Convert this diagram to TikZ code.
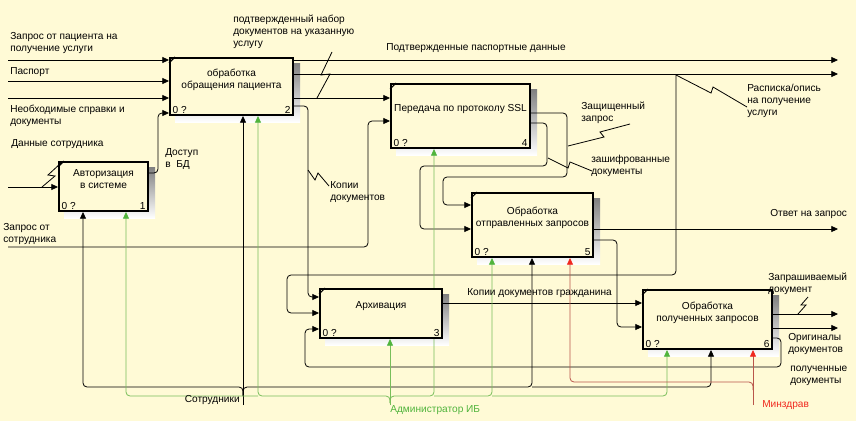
\documentclass[tikz,border=0pt]{standalone}
\usepackage{fontspec}
\setmainfont{Liberation Sans}
\usetikzlibrary{arrows.meta, backgrounds}

\definecolor{paper}{RGB}{255,250,214}
\definecolor{shade}{RGB}{160,158,140}
\definecolor{admline}{RGB}{120,190,90}
\definecolor{admtext}{RGB}{80,180,60}
\definecolor{mzline}{RGB}{185,85,75}
\definecolor{mztext}{RGB}{240,40,30}

\tikzset{
  txt/.style={font=\fontsize{7.6}{9}\selectfont, inner sep=0pt, align=left},
  func/.style={draw, line width=1.5pt, fill=paper, inner sep=0pt},
  ftitle/.style={txt, align=center},
  fnum/.style={txt, inner xsep=2.5pt, inner ysep=1.5pt},
  arr/.style={-{Triangle[length=5pt,width=4.5pt]}, line width=0.6pt, rounded corners=3pt},
  garr/.style={arr, draw=admline, -{Triangle[length=5pt,width=4.5pt,color=admtext]}},
  rarr/.style={arr, draw=mzline, -{Triangle[length=5pt,width=4.5pt,color=mztext]}},
  squig/.style={line width=0.6pt}
}

% box number marks and corner tick
\newcommand{\funcmarks}[2]{%
  \node[fnum, anchor=south west] (#1-z) at (#1.south west) {0 ?};
  \node[fnum, anchor=south east] (#1-n) at (#1.south east) {#2};
  \draw[line width=0.8pt] ([yshift=-4.5pt]#1.north west) -- ([xshift=4.5pt]#1.north west);
}

\begin{document}
\begin{tikzpicture}[x=0.75pt, y=-0.75pt]
    \useasboundingbox (0,0) rectangle (856,421);
    \begin{scope}[on background layer]
        \fill[paper] (0,0) rectangle (856,421);
    \end{scope}

    % Function boxes
    \node[func, minimum width=66.75pt, minimum height=36.75pt] (auth) at (103.5,186.5) {};
    \node[func, minimum width=92.25pt, minimum height=42.75pt] (proc) at (231.5,86.5) {};
    \node[func, minimum width=104.25pt, minimum height=48pt] (ssl) at (460.5,116) {};
    \node[func, minimum width=90.75pt, minimum height=48pt] (sent) at (532.5,225) {};
    \node[func, minimum width=91.5pt, minimum height=36.75pt] (arch) at (381,313.5) {};
    \node[func, minimum width=96.75pt, minimum height=44.25pt] (recv) at (707.5,319.5) {};

    % Box shadows
    \begin{scope}[on background layer]
    \foreach \b in {auth,proc,ssl,sent,arch,recv}
        \fill[shade] ([shift={(6,6)}]\b.north west) rectangle ([shift={(6,6)}]\b.south east);
    \end{scope}

    % Box titles
    \node[ftitle] (auth-t) at ([yshift=5.25pt]auth.center) {Авторизация\\в системе};
    \node[ftitle] (proc-t) at ([yshift=5.25pt]proc.center) {обработка\\обращения пациента};
    \node[ftitle] (ssl-t) at ([yshift=5.25pt]ssl.center) {Передача по протоколу SSL};
    \node[ftitle] (sent-t) at ([yshift=5.25pt]sent.center) {Обработка\\отправленных запросов};
    \node[ftitle] (arch-t) at ([yshift=5.25pt]arch.center) {Архивация};
    \node[ftitle] (recv-t) at ([yshift=5.25pt]recv.center) {Обработка\\полученных запросов};

    \funcmarks{auth}{1}
    \funcmarks{proc}{2}
    \funcmarks{arch}{3}
    \funcmarks{ssl}{4}
    \funcmarks{sent}{5}
    \funcmarks{recv}{6}

    % Border ends
    \coordinate (in-req) at (8,60);
    \coordinate (in-pass) at (8,81);
    \coordinate (in-docs) at (8,98);
    \coordinate (in-emp) at (8,187);
    \coordinate (in-ereq) at (8,247);
    \coordinate (out-pass) at (838,60);
    \coordinate (out-rasp) at (838,74);
    \coordinate (out-ans) at (838,229);
    \coordinate (out-doc) at (838,314);
    \coordinate (out-orig) at (838,328);
    \coordinate (m-staff) at (243,405);
    \coordinate (m-admin) at (390,405);
    \coordinate (m-mz) at (753,405);

    \begin{scope}[on background layer]
    % Inputs
    \draw[arr] (in-req) -- (in-req -| proc.west);
    \draw[arr] (in-pass) -- (in-pass -| proc.west);
    \draw[arr] (in-docs) -- (in-docs -| proc.west);
    \draw[arr] (in-emp) -- (in-emp -| auth.west);
    \draw[arr] (in-ereq) -- (368,247) -- (368,121) -- (ssl.west |- 0,121);

    % Outputs and links
    \draw[arr] (auth.east |- 0,173) -- (158,173) -- (158,113) -- (proc.west |- 0,113);
    \draw[arr] (proc.east |- out-pass) -- (out-pass);
    \draw[arr] (proc.east |- out-rasp) -- (out-rasp);
    \draw[arr] (676,74) -- (676,275) -- (287,275) -- (287,313) -- (arch.west |- 0,313);
    \draw[arr] (proc.east |- 0,98) -- (ssl.west |- 0,98);
    \draw[arr] (proc.east |- 0,106) -- (308,106) -- (308,297) -- (arch.west |- 0,297);
    \draw[arr] (ssl.east |- 0,113) -- (567,113) -- (567,177) -- (443,177) -- (443,205) -- (sent.west |- 0,205);
    \draw[arr] (ssl.east |- 0,123) -- (547,123) -- (547,166) -- (420,166) -- (420,229) -- (sent.west |- 0,229);
    \draw[arr] (sent.east |- out-ans) -- (out-ans);
    \draw[arr] (sent.east |- 0,240) -- (617,240) -- (617,327) -- (recv.west |- 0,327);
    \draw[arr] (arch.east |- 0,303) -- (recv.west |- 0,303);
    \draw[arr] (recv.east |- out-doc) -- (out-doc);
    \draw[arr] (recv.east |- out-orig) -- (out-orig);
    \draw[arr] (recv.east |- 0,338) -- (781,338) -- (781,367) -- (305,367) -- (305,329) -- (arch.west |- 0,329);

    % Mechanisms
    \draw[arr] (m-staff) -- (m-staff |- proc.south);
    \draw[arr] (243,396) -- (243,387) -- (83,387) -- (auth.south -| 83,0);
    \draw[arr] (243,396) -- (243,387) -- (532,387) -- (sent.south -| 532,0);
    \draw[arr] (532,387) -- (711,387) -- (recv.south -| 711,0);
    \draw[garr] (m-admin) -- (m-admin |- arch.south);
    \draw[garr] (390,403) -- (390,396) -- (258,396) -- (proc.south -| 258,0);
    \draw[garr] (258,396) -- (126,396) -- (auth.south -| 126,0);
    \draw[garr] (390,403) -- (390,396) -- (434,396) -- (ssl.south -| 434,0);
    \draw[garr] (434,396) -- (492,396) -- (sent.south -| 492,0);
    \draw[garr] (492,396) -- (667,396) -- (recv.south -| 667,0);
    \draw[rarr] (m-mz) -- (m-mz |- recv.south);
    \draw[rarr] (753,390) -- (753,382) -- (570,382) -- (sent.south -| 570,0);
    \end{scope}

    % Arrow labels
    \node[txt, anchor=west] (l-req) at (10,43) {Запрос от пациента на\\получение услуги};
    \node[txt, anchor=west] (l-pass) at (10,72) {Паспорт};
    \node[txt, anchor=west] (l-docs) at (10,116) {Необходимые справки и\\документы};
    \node[txt, anchor=west] (l-emp) at (11,144) {Данные сотрудника};
    \node[txt, anchor=west] (l-ereq) at (3,234.5) {Запрос от\\сотрудника};
    \node[txt, anchor=west] (l-db) at (165,159) {Доступ\\в~ БД};
    \node[txt, anchor=west] (l-set) at (233,32) {подтвержденный набор\\документов на указанную\\услугу};
    \node[txt, anchor=west] (l-ppd) at (386,48) {Подтвержденные паспортные данные};
    \node[txt, anchor=west] (l-rasp) at (747,101) {Расписка/опись\\на получение\\услуги};
    \node[txt, anchor=west] (l-sec) at (581,112.5) {Защищенный\\запрос};
    \node[txt, anchor=west] (l-copy) at (330,192) {Копии\\документов};
    \node[txt, anchor=west] (l-enc) at (591,166) {зашифрованные\\документы};
    \node[txt, anchor=west] (l-ans) at (770,214) {Ответ на запрос};
    \node[txt, anchor=west] (l-cpg) at (467,293) {Копии документов гражданина};
    \node[txt, anchor=west] (l-reqdoc) at (768,284) {Запрашиваемый\\документ};
    \node[txt, anchor=west] (l-orig) at (788,344) {Оригиналы\\документов};
    \node[txt, anchor=west] (l-got) at (790,375.5) {полученные\\документы};
    \node[txt, anchor=east] (l-staff) at (240,400) {Сотрудники};
    \node[txt, anchor=west, text=admtext] (l-admin) at (390,410) {Администратор ИБ};
    \node[txt, anchor=west, text=mztext] (l-mz) at (762,405) {Минздрав};

    % Squiggles
    \draw[squig] (61,163) -- (48,175) -- (55,176) -- (42,187);
    \draw[squig] (332,52) -- (321,75) -- (330,74) -- (317,98);
    \draw[squig] (676,75) -- (711,93) -- (713,87) -- (747,107);
    \draw[squig] (630,124) -- (600,132) -- (604,137) -- (568,146);
    \draw[squig] (548,158) -- (568,168) -- (570,162) -- (592,171);
    \draw[squig] (308,170) -- (315,180) -- (318,173) -- (329,186);
    \draw[squig] (808,297) -- (801,305) -- (806,305) -- (798,314);
\end{tikzpicture}
\end{document}
